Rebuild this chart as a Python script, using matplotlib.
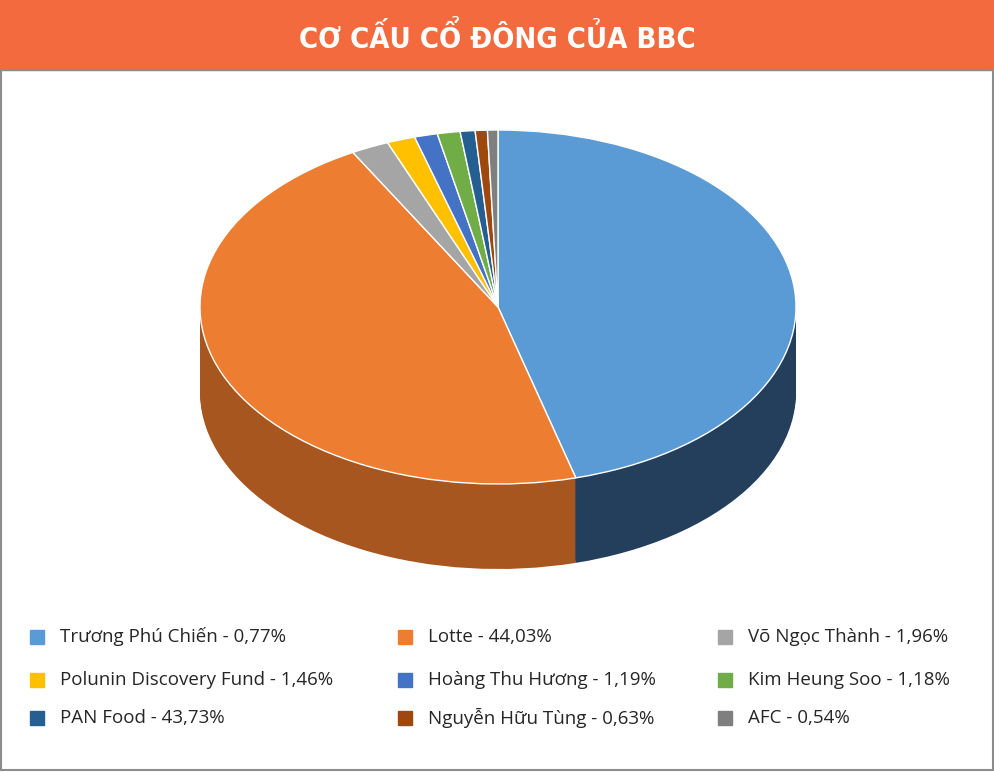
import matplotlib
matplotlib.use("Agg")
import matplotlib.pyplot as plt
from matplotlib.patches import Rectangle
import numpy as np

labels = ["Trương Phú Chiến - 0,77%", "Lotte - 44,03%", "Võ Ngọc Thành - 1,96%",
          "Polunin Discovery Fund - 1,46%", "Hoàng Thu Hương - 1,19%", "Kim Heung Soo - 1,18%",
          "PAN Food - 43,73%", "Nguyễn Hữu Tùng - 0,63%", "AFC - 0,54%"]
legend_colors = ["#5B9BD5", "#ED7D31", "#A5A5A5", "#FFC000", "#4472C4", "#70AD47",
                 "#255E91", "#9E480E", "#7F7F7F"]
# slices as drawn in the picture (clockwise from 12 o'clock)
slice_values = [43.73, 44.03, 1.96, 1.46, 1.19, 1.18, 0.77, 0.63, 0.54]
slice_colors = ["#5B9BD5", "#ED7D31", "#A5A5A5", "#FFC000", "#4472C4", "#70AD47",
                "#255E91", "#9E480E", "#7F7F7F"]
side_colors = ["#243F5C", "#A8561F", "#6E6E6E", "#B08500", "#2E4E88", "#4C7A30",
               "#183E60", "#6B300A", "#555555"]

W, H = 994, 772
fig = plt.figure(figsize=(W/100, H/100), dpi=100)
fig.patch.set_facecolor("white")

bg = fig.add_axes([0, 0, 1, 1])
bg.set_xlim(0, W); bg.set_ylim(H, 0); bg.axis("off")
bg.add_patch(Rectangle((0, 0), W, 70, color="#F26A3D"))
bg.add_patch(Rectangle((1, 70), W-2, H-72, fill=False, edgecolor="#8C8C8C", lw=1.5))
bg.text(W/2, 38, "CƠ CẤU CỔ ĐÔNG CỦA BBC", color="white", fontsize=21,
        fontweight="bold", ha="center", va="center", family="DejaVu Sans",
        fontstretch="condensed")

left, right, top, bottom = 180, 816, 110, 590
ax = fig.add_axes([left/W, 1-bottom/H, (right-left)/W, (bottom-top)/H])
xr = (right-left)/298/2
depth = 85/177
for k in np.linspace(depth, 0.005, 40):
    ax.pie(slice_values, colors=side_colors, startangle=90, counterclock=False,
           center=(0, -k), radius=1, wedgeprops=dict(linewidth=0), frame=True)
ax.pie(slice_values, colors=slice_colors, startangle=90, counterclock=False,
       center=(0, 0), radius=1, wedgeprops=dict(linewidth=1, edgecolor="white"), frame=True)
ax.set_aspect("auto")
ax.set_xlim(-xr, xr)
ax.set_ylim(-(bottom-307)/177, (307-top)/177)
ax.axis("off")

cols = [30, 398, 718]
rows = [637, 680, 718]
for i, (lab, c) in enumerate(zip(labels, legend_colors)):
    x = cols[i % 3]; y = rows[i // 3]
    bg.add_patch(Rectangle((x, y-7), 14, 14, color=c))
    bg.text(x+30, y, lab, fontsize=13.5, va="center", ha="left", color="#262626",
            family="Open Sans")

fig.savefig("out.png", dpi=100)
